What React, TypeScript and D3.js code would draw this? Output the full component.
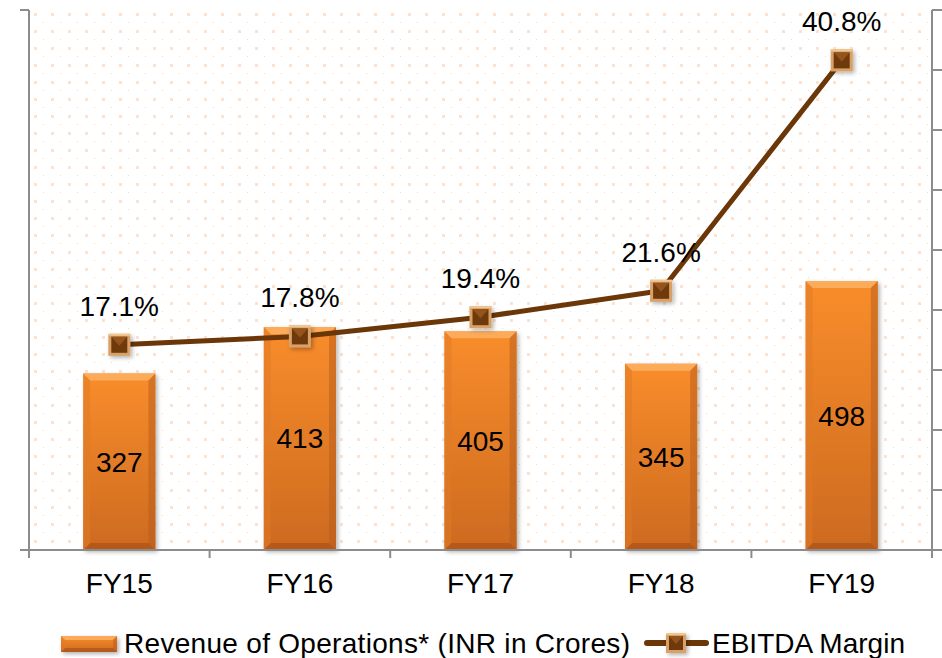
import React, { useEffect, useRef } from 'react';
import * as d3 from 'd3';

const categories = ['FY15', 'FY16', 'FY17', 'FY18', 'FY19'];
const revenue = [327, 413, 405, 345, 498];
const ebitdaMargin = [17.1, 17.8, 19.4, 21.6, 40.8];
const marginLabels = ['17.1%', '17.8%', '19.4%', '21.6%', '40.8%'];
const rightTicks = [0, 5, 10, 15, 20, 25, 30, 35, 40, 45];
const legendLabels = ['Revenue of Operations* (INR in Crores)', 'EBITDA Margin'];

const App = () => {
  const svgRef = useRef<SVGSVGElement>(null);

  useEffect(() => {
    const svg = d3.select(svgRef.current);
    svg.selectAll('*').remove();

    const width = 942;
    const height = 658;
    const left = 29, right = 932, top = 10, bottom = 550;
    const font = 'Liberation Sans, Arial, sans-serif';
    const fs = 28;

    const x = d3.scaleBand<string>()
      .domain(categories)
      .range([left, right])
      .paddingInner(0.6)
      .paddingOuter(0.3);
    const yLeft = d3.scaleLinear().domain([0, 1000]).range([bottom, top]);
    const yRight = d3.scaleLinear().domain([0, 45]).range([bottom, top]);

    const defs = svg.append('defs');

    // dotted background
    const pat = defs.append('pattern')
      .attr('id', 'dots')
      .attr('patternUnits', 'userSpaceOnUse')
      .attr('x', 27).attr('y', 6)
      .attr('width', 17).attr('height', 17);
    pat.append('rect').attr('x', 7).attr('y', 7).attr('width', 3).attr('height', 3)
      .attr('fill', '#fde3cf');
    pat.append('rect').attr('x', 16).attr('y', 16).attr('width', 1.5).attr('height', 1.5)
      .attr('fill', '#fad8bd');

    const barGrad = defs.append('linearGradient')
      .attr('id', 'barGrad').attr('x1', '0%').attr('y1', '0%').attr('x2', '0%').attr('y2', '100%');
    barGrad.append('stop').attr('offset', '0%').attr('stop-color', '#f98d2c');
    barGrad.append('stop').attr('offset', '100%').attr('stop-color', '#cd6a1f');

    const shadow = defs.append('filter').attr('id', 'shadow')
      .attr('x', '-20%').attr('y', '-20%').attr('width', '150%').attr('height', '150%');
    shadow.append('feDropShadow')
      .attr('dx', 2).attr('dy', 2).attr('stdDeviation', 2)
      .attr('flood-color', '#000').attr('flood-opacity', 0.3);

    svg.append('rect')
      .attr('x', left).attr('y', top)
      .attr('width', right - left).attr('height', bottom - top)
      .attr('fill', 'url(#dots)');

    // bars with bevel
    const drawBar = (g: any, bx: number, by: number, bw: number, bh: number, b: number) => {
      g.append('rect').attr('x', bx).attr('y', by).attr('width', bw).attr('height', bh)
        .attr('fill', 'url(#barGrad)').attr('filter', 'url(#shadow)');
      g.append('polygon')
        .attr('points', `${bx},${by} ${bx + bw},${by} ${bx + bw - b},${by + b} ${bx + b},${by + b}`)
        .attr('fill', '#fcb063').attr('opacity', 0.85);
      g.append('polygon')
        .attr('points', `${bx},${by + bh} ${bx + bw},${by + bh} ${bx + bw - b},${by + bh - b} ${bx + b},${by + bh - b}`)
        .attr('fill', '#a9521a').attr('opacity', 0.7);
      g.append('polygon')
        .attr('points', `${bx},${by} ${bx + b},${by + b} ${bx + b},${by + bh - b} ${bx},${by + bh}`)
        .attr('fill', '#e07a25').attr('opacity', 0.5);
      g.append('polygon')
        .attr('points', `${bx + bw},${by} ${bx + bw - b},${by + b} ${bx + bw - b},${by + bh - b} ${bx + bw},${by + bh}`)
        .attr('fill', '#b45c1b').attr('opacity', 0.5);
    };

    const bars = svg.append('g');
    revenue.forEach((v, i) => {
      const bx = x(categories[i]) as number;
      const by = yLeft(v);
      drawBar(bars.append('g'), bx, by, x.bandwidth(), bottom - by, 7);
    });

    bars.selectAll('text.val')
      .data(revenue)
      .enter().append('text')
      .attr('class', 'val')
      .attr('x', (d, i) => (x(categories[i]) as number) + x.bandwidth() / 2)
      .attr('y', d => (yLeft(d) + bottom) / 2 + 10)
      .attr('text-anchor', 'middle')
      .attr('font-family', font)
      .attr('font-size', fs)
      .attr('fill', '#000')
      .text(d => d);

    // axes
    const axisColor = '#8c8c8c';
    const axes = svg.append('g').attr('stroke', axisColor).attr('stroke-width', 2).attr('fill', 'none');
    axes.append('line').attr('x1', left).attr('x2', left).attr('y1', top).attr('y2', bottom + 1);
    axes.append('line').attr('x1', 20).attr('x2', left).attr('y1', top).attr('y2', top);
    axes.append('line').attr('x1', 20).attr('x2', right).attr('y1', bottom).attr('y2', bottom);
    axes.append('line').attr('x1', right).attr('x2', right).attr('y1', top).attr('y2', bottom + 8);
    const step = x.step();
    d3.range(categories.length + 1).forEach(i => {
      const tx = left + i * step;
      axes.append('line').attr('x1', tx).attr('x2', tx).attr('y1', bottom).attr('y2', bottom + 8);
    });
    rightTicks.forEach(t => {
      axes.append('line').attr('x1', right).attr('x2', right + 10)
        .attr('y1', yRight(t)).attr('y2', yRight(t));
    });

    svg.append('g').selectAll('text')
      .data(categories)
      .enter().append('text')
      .attr('x', d => (x(d) as number) + x.bandwidth() / 2)
      .attr('y', 593)
      .attr('text-anchor', 'middle')
      .attr('font-family', font)
      .attr('font-size', fs)
      .text(d => d);

    // line
    const line = d3.line<number>()
      .x((d, i) => (x(categories[i]) as number) + x.bandwidth() / 2)
      .y(d => yRight(d));
    svg.append('path')
      .datum(ebitdaMargin)
      .attr('fill', 'none')
      .attr('stroke', '#6b3608')
      .attr('stroke-width', 5)
      .attr('stroke-linejoin', 'round')
      .attr('d', line);

    const drawMarker = (g: any, cx: number, cy: number, s: number) => {
      const h = s / 2;
      g.append('rect').attr('x', cx - h).attr('y', cy - h).attr('width', s).attr('height', s)
        .attr('fill', '#d9a067').attr('filter', 'url(#shadow)');
      const inH = h - 3;
      g.append('rect').attr('x', cx - inH).attr('y', cy - inH).attr('width', inH * 2).attr('height', inH * 2)
        .attr('fill', '#6e3a0c');
      g.append('polygon')
        .attr('points', `${cx - inH},${cy - inH} ${cx + inH},${cy - inH} ${cx},${cy + 1}`)
        .attr('fill', '#94541c');
      g.append('rect').attr('x', cx - h).attr('y', cy - h).attr('width', s).attr('height', 2)
        .attr('fill', '#f0c88f');
    };

    const markers = svg.append('g');
    ebitdaMargin.forEach((v, i) => {
      drawMarker(markers, (x(categories[i]) as number) + x.bandwidth() / 2, yRight(v), 22);
    });

    svg.append('g').selectAll('text')
      .data(ebitdaMargin)
      .enter().append('text')
      .attr('x', (d, i) => (x(categories[i]) as number) + x.bandwidth() / 2)
      .attr('y', d => yRight(d) - 29)
      .attr('text-anchor', 'middle')
      .attr('font-family', font)
      .attr('font-size', fs)
      .text((d, i) => marginLabels[i]);

    // legend
    const legend = svg.append('g');
    drawBar(legend.append('g'), 61, 636, 56, 16, 4);
    legend.append('text')
      .attr('x', 124).attr('y', 653)
      .attr('font-family', font).attr('font-size', fs)
      .attr('letter-spacing', 0.3)
      .text(legendLabels[0]);
    legend.append('line')
      .attr('x1', 647).attr('x2', 706).attr('y1', 643).attr('y2', 643)
      .attr('stroke', '#6b3608').attr('stroke-width', 6).attr('stroke-linecap', 'round');
    drawMarker(legend, 676, 643, 20);
    legend.append('text')
      .attr('x', 712).attr('y', 653)
      .attr('font-family', font).attr('font-size', fs)
      .text(legendLabels[1]);

    svg.attr('width', width).attr('height', height);
  }, []);

  return (
    <svg
      ref={svgRef}
      width={942}
      height={658}
      style={{ position: 'absolute', left: 0, top: 0, background: '#fff' }}
    />
  );
};

export default App;
